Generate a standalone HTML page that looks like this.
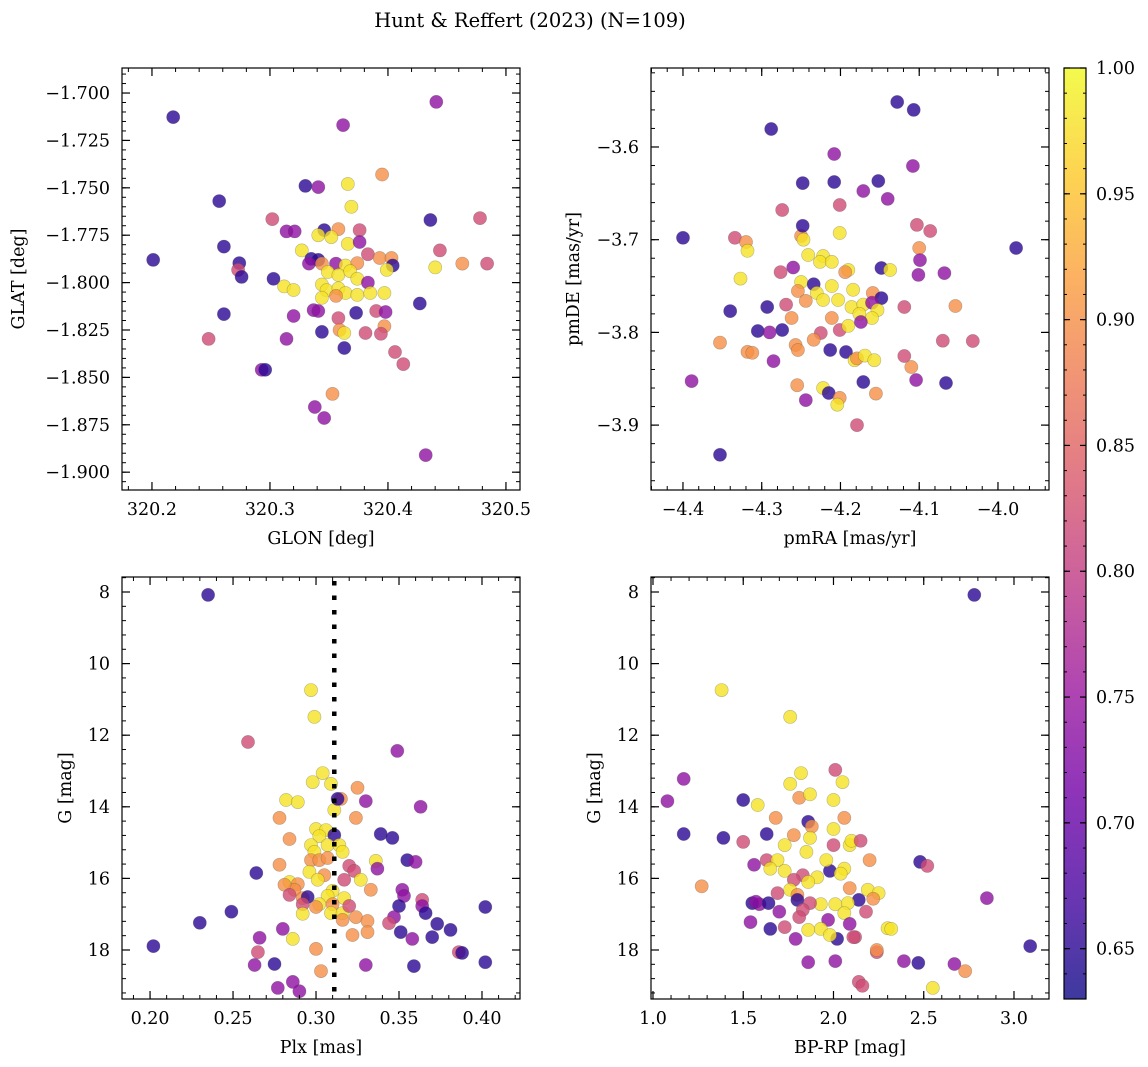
<!DOCTYPE html>
<html><head><meta charset="utf-8"><style>
body{margin:0;background:#fff}
svg{display:block;font-family:"DejaVu Serif","Liberation Serif",serif}
</style></head><body>
<svg id="fig" width="1148" height="1067" viewBox="0 0 1148 1067" xmlns="http://www.w3.org/2000/svg">
<text x="530" y="27" font-size="19.5" text-anchor="middle">Hunt &amp; Reffert (2023) (N=109)</text>
</svg>
<script>
// class probabilities: d=0.65 p=0.74 m=0.82 o=0.90 y=0.98
const d=0.65,p=0.74,m=0.82,o=0.90,y=0.98;
const glonGlat=[[320.218,-1.7127,d],[320.441,-1.7047,p],[320.362,-1.7169,p],[320.201,-1.788,d],[320.257,-1.757,d],[320.261,-1.781,d],[320.330,-1.749,d],[320.341,-1.7496,p],[320.366,-1.748,y],[320.395,-1.743,o],[320.369,-1.760,y],[320.302,-1.7665,m],[320.314,-1.773,p],[320.321,-1.773,p],[320.346,-1.7723,d],[320.358,-1.7718,o],[320.376,-1.7723,m],[320.341,-1.775,y],[320.352,-1.776,y],[320.366,-1.7796,y],[320.376,-1.7786,p],[320.436,-1.767,d],[320.478,-1.766,m],[320.327,-1.783,y],[320.335,-1.7875,d],[320.341,-1.788,d],[320.274,-1.7897,d],[320.273,-1.7933,m],[320.276,-1.797,d],[320.333,-1.790,p],[320.344,-1.790,o],[320.356,-1.790,p],[320.364,-1.791,y],[320.374,-1.7897,o],[320.383,-1.785,m],[320.393,-1.787,o],[320.403,-1.787,o],[320.404,-1.791,d],[320.399,-1.7933,y],[320.440,-1.792,y],[320.444,-1.783,m],[320.463,-1.790,o],[320.484,-1.790,m],[320.303,-1.798,d],[320.349,-1.7944,y],[320.358,-1.796,y],[320.368,-1.794,y],[320.374,-1.798,y],[320.383,-1.800,p],[320.312,-1.802,y],[320.320,-1.8039,y],[320.344,-1.801,y],[320.348,-1.804,y],[320.358,-1.803,y],[320.364,-1.8055,y],[320.374,-1.8065,y],[320.385,-1.8055,y],[320.397,-1.8055,y],[320.344,-1.808,y],[320.356,-1.807,o],[320.427,-1.811,d],[320.261,-1.8166,d],[320.320,-1.8176,p],[320.337,-1.8145,p],[320.341,-1.815,p],[320.358,-1.8187,m],[320.373,-1.816,d],[320.390,-1.815,m],[320.398,-1.8155,p],[320.397,-1.823,o],[320.359,-1.825,o],[320.344,-1.826,d],[320.363,-1.8266,y],[320.381,-1.8266,m],[320.394,-1.827,m],[320.248,-1.8297,m],[320.314,-1.8297,p],[320.363,-1.8345,d],[320.406,-1.8366,m],[320.413,-1.843,m],[320.293,-1.846,p],[320.296,-1.846,d],[320.353,-1.8587,o],[320.338,-1.8656,p],[320.346,-1.8714,p],[320.432,-1.891,p]];
const pmPoints=[[-4.128,-3.5515,d],[-4.107,-3.560,d],[-4.288,-3.5806,d],[-4.208,-3.6076,p],[-4.208,-3.6378,d],[-4.248,-3.639,d],[-4.152,-3.6367,d],[-4.171,-3.6475,p],[-4.140,-3.656,p],[-4.108,-3.6205,p],[-4.400,-3.698,d],[-4.334,-3.698,m],[-4.274,-3.668,m],[-4.201,-3.6626,m],[-3.977,-3.709,d],[-4.103,-3.684,m],[-4.086,-3.6906,m],[-4.100,-3.709,o],[-4.320,-3.7025,o],[-4.318,-3.712,y],[-4.250,-3.696,o],[-4.247,-3.700,y],[-4.248,-3.685,d],[-4.201,-3.6928,y],[-4.241,-3.7165,y],[-4.222,-3.7176,y],[-4.226,-3.724,y],[-4.260,-3.730,p],[-4.276,-3.735,m],[-4.148,-3.7305,d],[-4.211,-3.724,y],[-4.190,-3.7327,y],[-4.137,-3.7327,y],[-4.099,-3.722,p],[-4.101,-3.738,p],[-4.068,-3.736,p],[-4.194,-3.735,o],[-4.327,-3.742,y],[-4.250,-3.7456,y],[-4.234,-3.748,d],[-4.211,-3.750,y],[-4.184,-3.754,y],[-4.159,-3.7575,o],[-4.148,-3.763,d],[-4.254,-3.7553,o],[-4.230,-3.7575,y],[-4.340,-3.777,d],[-4.293,-3.7726,d],[-4.269,-3.770,m],[-4.244,-3.766,o],[-4.222,-3.765,y],[-4.203,-3.765,y],[-4.186,-3.7726,y],[-4.171,-3.770,y],[-4.160,-3.768,p],[-4.153,-3.776,y],[-4.119,-3.7726,m],[-4.054,-3.7715,o],[-4.262,-3.7845,o],[-4.211,-3.7845,o],[-4.176,-3.780,y],[-4.160,-3.7845,y],[-4.305,-3.7985,d],[-4.274,-3.7974,d],[-4.225,-3.8006,m],[-4.201,-3.7974,m],[-4.190,-3.793,y],[-4.174,-3.7888,p],[-4.290,-3.800,p],[-4.318,-3.821,o],[-4.312,-3.822,o],[-4.285,-3.831,p],[-4.257,-3.8136,o],[-4.254,-3.819,o],[-4.234,-3.808,o],[-4.213,-3.819,d],[-4.193,-3.8211,d],[-4.182,-3.830,y],[-4.179,-3.828,o],[-4.169,-3.825,y],[-4.157,-3.830,y],[-4.119,-3.8255,m],[-4.110,-3.8373,o],[-4.070,-3.809,m],[-4.032,-3.8093,m],[-4.222,-3.860,y],[-4.215,-3.8654,d],[-4.201,-3.8707,o],[-4.204,-3.878,y],[-4.155,-3.866,o],[-4.171,-3.8535,d],[-4.104,-3.8513,p],[-4.066,-3.8546,d],[-4.353,-3.811,o],[-4.389,-3.8525,p],[-4.244,-3.873,p],[-4.255,-3.857,o],[-4.179,-3.900,m],[-4.353,-3.932,d]];
const plxG=[[.235,8.08,d],[.297,10.74,y],[.299,11.49,y],[.259,12.19,m],[.304,13.06,y],[.298,13.31,y],[.309,13.36,y],[.325,13.47,o],[.349,12.44,p],[.282,13.81,y],[.289,13.87,y],[.315,13.78,o],[.311,14.09,y],[.330,13.84,p],[.313,13.78,d],[.363,14.0,p],[.278,14.31,o],[.324,14.31,o],[.300,14.62,y],[.306,14.65,y],[.302,14.82,y],[.311,14.79,d],[.339,14.76,d],[.346,14.87,d],[.284,14.9,o],[.307,15.07,y],[.314,15.07,y],[.316,15.26,y],[.297,15.07,y],[.299,15.26,y],[.297,15.49,o],[.302,15.49,o],[.307,15.43,o],[.355,15.49,d],[.360,15.54,p],[.278,15.62,o],[.336,15.51,y],[.320,15.65,m],[.323,15.79,m],[.337,15.73,p],[.264,15.85,d],[.296,15.82,y],[.305,15.91,o],[.301,16.04,y],[.317,16.04,m],[.327,16.04,y],[.284,16.1,y],[.289,16.16,o],[.287,16.32,o],[.281,16.18,o],[.333,16.32,o],[.352,16.32,p],[.353,16.49,p],[.310,16.35,y],[.307,16.49,y],[.317,16.55,y],[.292,16.55,o],[.284,16.46,m],[.295,16.52,d],[.292,16.72,m],[.302,16.72,y],[.310,16.72,o],[.300,16.8,o],[.309,16.97,y],[.316,16.97,y],[.320,16.77,m],[.364,16.6,m],[.364,16.77,p],[.350,16.77,d],[.292,16.99,y],[.347,17.08,p],[.344,17.25,m],[.366,16.97,d],[.324,17.08,o],[.331,17.19,o],[.316,17.16,o],[.381,17.44,d],[.373,17.27,d],[.249,16.93,d],[.230,17.24,d],[.402,16.80,d],[.322,17.58,o],[.331,17.5,o],[.351,17.5,d],[.358,17.69,p],[.370,17.64,d],[.266,17.66,p],[.280,17.41,p],[.286,17.69,y],[.202,17.89,d],[.265,18.06,m],[.300,17.97,o],[.386,18.06,m],[.388,18.08,d],[.263,18.42,p],[.275,18.39,d],[.330,18.42,p],[.359,18.45,d],[.402,18.34,d],[.303,18.59,o],[.286,18.89,p],[.277,19.06,p],[.290,19.15,p]];
const cmdG=[[2.78,8.08,d],[1.38,10.74,y],[1.76,11.49,y],[2.01,12.97,m],[1.17,13.22,p],[1.08,13.84,p],[1.82,13.06,y],[1.76,13.36,y],[2.05,13.31,y],[1.50,13.81,d],[1.58,13.95,y],[1.81,13.75,o],[1.87,13.65,y],[2.00,13.81,y],[1.17,14.76,d],[1.39,14.87,d],[1.63,14.76,d],[1.68,14.31,o],[1.86,14.42,d],[1.88,14.55,o],[2.06,14.31,o],[2.00,14.62,y],[1.78,14.79,o],[1.87,14.87,y],[1.73,15.07,y],[1.85,15.26,y],[2.00,15.07,m],[2.09,15.07,y],[2.10,14.95,y],[1.50,14.98,m],[2.15,14.95,m],[1.56,15.62,p],[1.63,15.49,m],[1.69,15.49,y],[1.65,15.73,y],[1.73,15.79,y],[1.98,15.79,d],[1.91,15.97,y],[2.06,15.73,y],[1.96,15.49,y],[2.04,15.87,y],[2.20,15.49,o],[2.48,15.54,d],[2.52,15.65,m],[1.83,15.91,m],[1.78,16.04,m],[1.86,16.1,y],[1.76,16.32,y],[1.80,16.46,o],[2.09,16.27,o],[2.19,16.32,y],[2.14,16.6,d],[2.25,16.41,y],[2.22,16.57,o],[2.08,16.69,y],[1.93,16.72,y],[2.01,16.72,y],[2.06,16.97,y],[1.80,16.6,d],[1.87,16.69,m],[1.83,16.88,m],[1.69,16.41,m],[1.59,16.72,p],[1.55,16.69,d],[1.64,16.69,d],[1.70,16.93,p],[1.81,17.08,m],[1.97,17.16,p],[2.18,16.93,m],[1.54,17.22,p],[1.65,17.41,d],[1.93,17.41,y],[2.09,17.27,p],[2.12,17.64,m],[2.02,17.69,d],[1.79,17.69,p],[1.73,17.36,m],[1.98,17.58,y],[1.86,17.44,y],[2.30,17.39,y],[2.32,17.41,y],[2.24,18.06,m],[2.24,18.0,o],[2.01,18.31,p],[2.11,17.64,m],[2.39,18.31,p],[2.47,18.36,d],[2.67,18.39,p],[2.73,18.59,o],[1.86,18.34,p],[2.14,18.89,m],[2.16,19.0,m],[2.55,19.06,y],[3.09,17.89,d],[2.85,16.55,p],[1.27,16.22,o],[1.57,16.65,p]];
const cbTicks=[0.65,0.70,0.75,0.80,0.85,0.90,0.95,1.00];
const meanPlx=0.311;

const NS='http://www.w3.org/2000/svg';
const svg=document.getElementById('fig');
function mk(tag,attrs,parent){const e=document.createElementNS(NS,tag);for(const k in attrs)e.setAttribute(k,attrs[k]);(parent||svg).appendChild(e);return e;}
const VMIN=0.63,VMAX=1.0;
const stops=['#0d0887','#46039f','#7201a8','#9c179e','#bd3786','#d8576b','#ed7953','#fb9f3a','#fdca26','#f0f921'];
function hx(c){return[1,3,5].map(i=>parseInt(c.substr(i,2),16));}
function plasma(v){let t=Math.max(0,Math.min(1,(v-VMIN)/(VMAX-VMIN)))*(stops.length-1);const i=Math.min(Math.floor(t),stops.length-2);const f=t-i;const a=hx(stops[i]),b=hx(stops[i+1]);return 'rgb('+a.map((x,k)=>Math.round(x+(b[k]-x)*f)).join(',')+')';}
function fmt(v,dec){const s=Math.abs(v).toFixed(dec);return (v<-1e-9?'\u2212':'')+s;}
const FS=17.5;

function panel(name,box,xr,yr,xt,yt,xmin,ymin,xdec,ydec,xlabel,ylabel,ylabOff,data,invert){
  const [x0,y0,x1,y1]=box;
  const g=mk('g',{});
  
  
  const sx=v=>x0+(v-xr[0])/(xr[1]-xr[0])*(x1-x0);
  const sy=invert?(v=>y0+(v-yr[0])/(yr[1]-yr[0])*(y1-y0)):(v=>y1-(v-yr[0])/(yr[1]-yr[0])*(y1-y0));
  const pts=mk('g',{},g);
  
  
  data.forEach(r=>{const c=plasma(r[2]);const e=mk('circle',{cx:sx(r[0]).toFixed(1),cy:sy(r[1]).toFixed(1),r:6.6,fill:c,'fill-opacity':0.8,stroke:'#444','stroke-opacity':0.35,'stroke-width':0.6},pts);
    
    });
  if(name==='plx-g-panel'){const l=mk('line',{x1:sx(meanPlx),x2:sx(meanPlx),y1:y0+4,y2:y1,stroke:'#000','stroke-width':4.5,'stroke-dasharray':'4.5 10'},g);
    
    }
  const fr=mk('rect',{x:x0,y:y0,width:x1-x0,height:y1-y0,fill:'none',stroke:'#000','stroke-width':1.2},g);
  
  
  const lo=Math.min(xr[0],xr[1]),hi=Math.max(xr[0],xr[1]);
  for(let v=Math.ceil(lo/xmin-1e-6)*xmin;v<=hi+1e-9;v+=xmin){const X=sx(v);mk('line',{x1:X,x2:X,y1:y1,y2:y1-4,stroke:'#000'},g);mk('line',{x1:X,x2:X,y1:y0,y2:y0+4,stroke:'#000'},g);}
  const ylo=Math.min(yr[0],yr[1]),yhi=Math.max(yr[0],yr[1]);
  for(let v=Math.ceil(ylo/ymin-1e-6)*ymin;v<=yhi+1e-9;v+=ymin){const Y=sy(v);mk('line',{x1:x0,x2:x0+4,y1:Y,y2:Y,stroke:'#000'},g);mk('line',{x1:x1,x2:x1-4,y1:Y,y2:Y,stroke:'#000'},g);}
  xt.forEach(v=>{const X=sx(v);mk('line',{x1:X,x2:X,y1:y1,y2:y1-8,stroke:'#000','stroke-width':1.2},g);mk('line',{x1:X,x2:X,y1:y0,y2:y0+8,stroke:'#000','stroke-width':1.2},g);
    const t=mk('text',{x:X,y:y1+25,'font-size':FS,'text-anchor':'middle'},g);t.textContent=fmt(v,xdec);
    
    });
  yt.forEach(v=>{const Y=sy(v);mk('line',{x1:x0,x2:x0+8,y1:Y,y2:Y,stroke:'#000','stroke-width':1.2},g);mk('line',{x1:x1,x2:x1-8,y1:Y,y2:Y,stroke:'#000','stroke-width':1.2},g);
    const t=mk('text',{x:x0-12,y:Y+6,'font-size':FS,'text-anchor':'end'},g);t.textContent=fmt(v,ydec);
    
    });
  const xl=mk('text',{x:(x0+x1)/2,y:y1+54,'font-size':FS,'text-anchor':'middle'},g);xl.textContent=xlabel;
  
  
  const yx=x0-ylabOff;
  const yl=mk('text',{x:yx,y:(y0+y1)/2,'font-size':FS,'text-anchor':'middle',transform:'rotate(-90 '+yx+' '+(y0+y1)/2+')'},g);yl.textContent=ylabel;
  
  
}
panel('glon-glat-panel',[122,68,520,490],[320.1746,320.5119],[-1.9094,-1.6868],[320.2,320.3,320.4,320.5],[-1.9,-1.875,-1.85,-1.825,-1.8,-1.775,-1.75,-1.725,-1.7],0.02,0.005,1,3,'GLON [deg]','GLAT [deg]',98,glonGlat,false);
panel('pm-panel',[651,68,1049,490],[-4.4406,-3.9352],[-3.970,-3.5148],[-4.4,-4.3,-4.2,-4.1,-4.0],[-3.9,-3.8,-3.7,-3.6],0.02,0.02,1,1,'pmRA [mas/yr]','pmDE [mas/yr]',72,pmPoints,false);
panel('plx-g-panel',[122,577,520,999],[0.1831,0.4229],[7.581,19.369],[0.20,0.25,0.30,0.35,0.40],[8,10,12,14,16,18],0.01,0.4,2,0,'Plx [mas]','G [mag]',51,plxG,true);
panel('cmd-panel',[651,577,1049,999],[0.989,3.194],[7.581,19.369],[1.0,1.5,2.0,2.5,3.0],[8,10,12,14,16,18],0.1,0.4,1,0,'BP-RP [mag]','G [mag]',51,cmdG,true);

// colorbar
const cb=mk('g',{});


const defs=mk('defs',{},cb);const lg=mk('linearGradient',{id:'cbg',x1:0,y1:1,x2:0,y2:0},defs);
stops.forEach((c,i)=>mk('stop',{offset:i/(stops.length-1),'stop-color':c},lg));
const CY0=68,CY1=999,CX0=1064,CX1=1086;
mk('rect',{x:CX0,y:CY0,width:CX1-CX0,height:CY1-CY0,fill:'url(#cbg)','fill-opacity':0.8},cb);
mk('rect',{x:CX0,y:CY0,width:CX1-CX0,height:CY1-CY0,fill:'none',stroke:'#000','stroke-width':1.2},cb);
const cy=v=>CY1-(v-VMIN)/(VMAX-VMIN)*(CY1-CY0);
for(let v=0.63;v<=1.0001;v+=0.01){const Y=cy(v);mk('line',{x1:CX0,x2:CX0+3,y1:Y,y2:Y,stroke:'#000'},cb);mk('line',{x1:CX1,x2:CX1-3,y1:Y,y2:Y,stroke:'#000'},cb);}
cbTicks.forEach(v=>{const Y=cy(v);mk('line',{x1:CX0,x2:CX0+6,y1:Y,y2:Y,stroke:'#000','stroke-width':1.2},cb);mk('line',{x1:CX1,x2:CX1-6,y1:Y,y2:Y,stroke:'#000','stroke-width':1.2},cb);
  const t=mk('text',{x:CX1+10,y:Y+6,'font-size':FS},cb);t.textContent=v.toFixed(2);
  
  });
</script>
</body></html>
